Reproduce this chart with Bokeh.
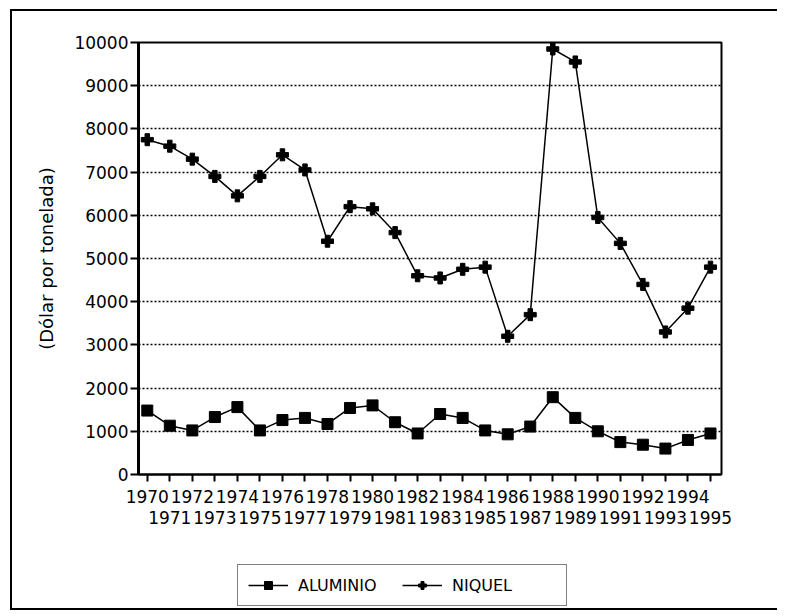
from bokeh.plotting import figure
from bokeh.models import (FixedTicker, LinearAxis, Range1d, Legend, LegendItem,
                          Grid, ColumnDataSource)
from bokeh.layouts import column
from bokeh.embed import file_html
from bokeh.resources import INLINE

years = list(range(1970, 1996))
aluminio = [1480, 1130, 1020, 1330, 1560, 1020, 1260, 1310, 1170, 1540,
            1600, 1210, 950, 1400, 1310, 1020, 930, 1110, 1790, 1310,
            1000, 750, 690, 600, 800, 950]
niquel = [7750, 7600, 7300, 6900, 6450, 6900, 7400, 7050, 5400, 6200,
          6150, 5600, 4600, 4550, 4750, 4800, 3200, 3700, 9850, 9550,
          5950, 5350, 4400, 3300, 3850, 4800]
y_ticks = list(range(0, 10001, 1000))
y_label = "(Dólar por tonelada)"
series_names = ["ALUMINIO", "NIQUEL"]

even_years = years[0::2]
odd_years = years[1::2]

FONT = "DejaVu Sans"
W = 777
H_MAIN = 540
H_LEG = 72

p = figure(width=W, height=H_MAIN,
           x_range=Range1d(1969.61, 1995.49), y_range=Range1d(0, 10000),
           x_axis_type=None, y_axis_type=None,
           output_backend="svg", toolbar_location=None,
           min_border_left=138, min_border_right=56,
           min_border_top=42, min_border_bottom=66)
p.background_fill_color = "white"
p.border_fill_color = None
p.outline_line_color = "black"
p.outline_line_width = 2
p.styles = {
    "background": ("linear-gradient(#000,#000) 10px 9px / 2px 600px no-repeat, "
                   "linear-gradient(#000,#000) 10px 9px / 790px 2px no-repeat, "
                   "#fff"),
}

# y axis
yax = LinearAxis(ticker=FixedTicker(ticks=y_ticks),
                 axis_label=y_label,
                 axis_label_text_font=FONT, axis_label_text_font_size="18px",
                 axis_label_text_font_style="normal", axis_label_text_color="black",
                 axis_label_standoff=14,
                 major_label_text_font=FONT, major_label_text_font_size="17px",
                 major_label_text_color="black", major_label_standoff=2,
                 major_tick_out=8, major_tick_in=0, major_tick_line_width=2,
                 minor_tick_line_color=None, axis_line_width=3)
p.add_layout(yax, "left")

# x axis: first row (even years), ticks at every year
xax1 = LinearAxis(ticker=FixedTicker(ticks=even_years, minor_ticks=odd_years),
                  major_label_text_font=FONT, major_label_text_font_size="17px",
                  major_label_text_color="black", major_label_standoff=8,
                  major_tick_out=7, major_tick_in=0, major_tick_line_width=2,
                  minor_tick_out=7, minor_tick_in=0, minor_tick_line_width=2,
                  minor_tick_line_color="black", axis_line_width=2)
p.add_layout(xax1, "below")

# x axis: second row (odd years)
xax2 = LinearAxis(ticker=FixedTicker(ticks=odd_years),
                  major_label_text_font=FONT, major_label_text_font_size="17px",
                  major_label_text_color="black", major_label_standoff=5,
                  major_tick_out=0, major_tick_in=0, major_tick_line_color=None,
                  minor_tick_line_color=None, axis_line_color=None)
p.add_layout(xax2, "below")

p.add_layout(Grid(dimension=1, ticker=FixedTicker(ticks=y_ticks),
                  grid_line_color="black", grid_line_dash="2 2",
                  grid_line_width=1.5))

src = ColumnDataSource(dict(year=years, al=aluminio, ni=niquel))
p.line("year", "al", source=src, line_color="black", line_width=1.5)
p.scatter("year", "al", source=src, marker="square", size=11, color="black")
p.line("year", "ni", source=src, line_color="black", line_width=1.5)
p.scatter("year", "ni", source=src, marker="plus", size=12, color="black")

# legend strip below the chart (its series lie outside its own ranges)
q = figure(width=W, height=H_LEG, x_range=Range1d(0, 1), y_range=Range1d(0, 1),
           x_axis_type=None, y_axis_type=None,
           output_backend="svg", toolbar_location=None,
           min_border=0)
q.background_fill_color = None
q.border_fill_color = None
q.outline_line_color = None
q.grid.visible = False
q.styles = {
    "background": ("linear-gradient(#000,#000) 10px 0px / 2px 70px no-repeat, "
                   "linear-gradient(#000,#000) 10px 68px / 790px 2px no-repeat, "
                   "#fff"),
}
k1 = q.line("year", "al", source=src, line_color="black", line_width=1.5)
j1 = q.scatter("year", "al", source=src, marker="square", size=11, color="black")
k2 = q.line("year", "ni", source=src, line_color="black", line_width=1.5)
j2 = q.scatter("year", "ni", source=src, marker="plus", size=12, color="black")

legend = Legend(items=[LegendItem(label=series_names[0], renderers=[k1, j1]),
                       LegendItem(label=series_names[1], renderers=[k2, j2])],
                location=(99, 6), orientation="horizontal",
                border_line_color="black", border_line_width=1.5,
                label_text_font=FONT, label_text_font_size="16px",
                label_text_color="black",
                glyph_width=40, glyph_height=20, label_standoff=10,
                label_width=104, spacing=0, padding=10, margin=0,
                background_fill_color="white", background_fill_alpha=1)
q.add_layout(legend)

layout = column(p, q, spacing=0)
open("out.html", "w").write(file_html(layout, INLINE))
